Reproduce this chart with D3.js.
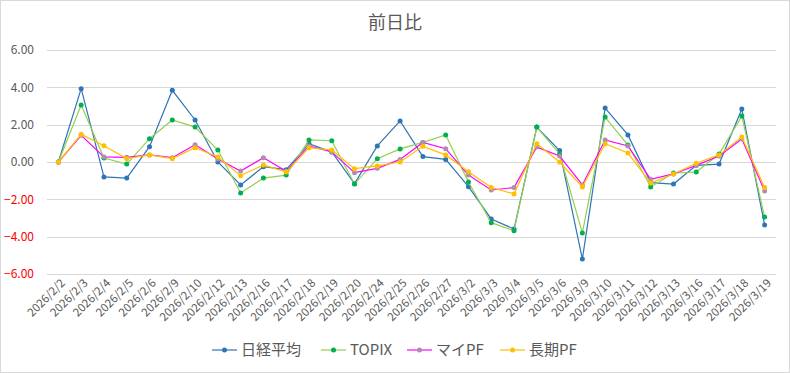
<!DOCTYPE html>
<html>
<head>
<meta charset="utf-8">
<script src="https://cdn.jsdelivr.net/npm/d3@7"></script>
<style>
  body { margin: 0; background: #fff; }
  text { font-family: "Noto Sans CJK JP", "Noto Sans", sans-serif; }
</style>
</head>
<body>
<div id="chart"></div>
<script>
// dates on the x axis
var dates = ["2026/2/2", "2026/2/3", "2026/2/4", "2026/2/5", "2026/2/6", "2026/2/9", "2026/2/10",
    "2026/2/12", "2026/2/13", "2026/2/16", "2026/2/17", "2026/2/18", "2026/2/19", "2026/2/20",
    "2026/2/24", "2026/2/25", "2026/2/26", "2026/2/27", "2026/3/2", "2026/3/3", "2026/3/4",
    "2026/3/5", "2026/3/6", "2026/3/9", "2026/3/10", "2026/3/11", "2026/3/12", "2026/3/13",
    "2026/3/16", "2026/3/17", "2026/3/18", "2026/3/19"];

var nikkei = [0, 3.93, -0.80, -0.86, 0.82, 3.84, 2.25, 0.0, -1.23, -0.25, -0.41, 0.98, 0.54, -1.16,
    0.86, 2.20, 0.29, 0.14, -1.32, -3.05, -3.59, 1.87, 0.61, -5.20, 2.89, 1.45, -1.11, -1.18,
    -0.18, -0.11, 2.84, -3.37];
var topix = [0, 3.05, 0.21, -0.11, 1.25, 2.25, 1.87, 0.64, -1.66, -0.86, -0.70, 1.18, 1.14, -1.18,
    0.18, 0.70, 1.05, 1.45, -1.07, -3.25, -3.68, 1.87, 0.43, -3.80, 2.41, 0.91, -1.34, -0.59,
    -0.54, 0.43, 2.46, -2.95];
var myPF = [0, 1.43, 0.27, 0.25, 0.38, 0.23, 0.93, 0.16, -0.48, 0.23, -0.50, 0.86, 0.54, -0.57,
    -0.34, 0.14, 1.05, 0.71, -0.70, -1.50, -1.37, 0.80, 0.32, -1.23, 1.18, 0.86, -0.93, -0.64,
    -0.18, 0.32, 1.23, -1.55];
var longPF = [0, 1.48, 0.87, 0.18, 0.38, 0.18, 0.77, 0.27, -0.73, -0.16, -0.54, 0.77, 0.64, -0.36,
    -0.21, 0.0, 0.84, 0.38, -0.52, -1.37, -1.71, 0.98, 0.0, -1.34, 0.98, 0.48, -1.13, -0.64,
    -0.07, 0.38, 1.34, -1.37];

var yTicks = [-6, -4, -2, 0, 2, 4, 6];

var series = [
    { name: "日経平均", values: nikkei, line: "#2E75B6", marker: "#2E75B6" },
    { name: "TOPIX", values: topix, line: "#92D050", marker: "#00B050" },
    { name: "マイPF", values: myPF, line: "#FF00FF", marker: "#B08CB0" },
    { name: "長期PF", values: longPF, line: "#FFC000", marker: "#FFC000" }
];

var svgWidth = 790, svgHeight = 373;

var svg = d3.select("#chart").append("svg")
    .attr("width", svgWidth)
    .attr("height", svgHeight);

// outer border
svg.append("rect")
    .attr("x", 0.5).attr("y", 0.5)
    .attr("width", svgWidth - 1).attr("height", svgHeight - 1)
    .attr("fill", "#fff")
    .attr("stroke", "#d9d9d9");

// title
svg.append("text")
    .attr("x", 395).attr("y", 29)
    .attr("text-anchor", "middle")
    .attr("font-size", "18px")
    .attr("fill", "#595959")
    .text("前日比");

var xScale = d3.scalePoint()
    .domain(dates)
    .range([47, 776])
    .padding(0.5);

var yScale = d3.scaleLinear()
    .domain([-6, 6])
    .range([274, 50]);

// gridlines
svg.append("g").selectAll("line")
    .data(yTicks)
    .enter()
    .append("line")
    .attr("x1", 47).attr("x2", 776)
    .attr("y1", d => Math.round(yScale(d)) + 0.5)
    .attr("y2", d => Math.round(yScale(d)) + 0.5)
    .attr("stroke", "#d9d9d9");

// y axis labels (negative in red)
var leftAxis = d3.axisLeft(yScale)
    .tickValues(yTicks)
    .tickFormat(d3.format(".2f"))
    .tickSize(0)
    .tickPadding(0);

var yAxis = svg.append("g")
    .attr("transform", "translate(34,0)")
    .call(leftAxis);
yAxis.select(".domain").remove();
yAxis.selectAll("text")
    .attr("font-size", "12px")
    .attr("fill", d => d < 0 ? "#ff0000" : "#595959");

// x axis labels, rotated
var bottomAxis = d3.axisBottom(xScale).tickSize(0).tickPadding(0);
var xAxis = svg.append("g")
    .attr("transform", "translate(0,281)")
    .call(bottomAxis);
xAxis.select(".domain").remove();
xAxis.selectAll("text")
    .attr("font-size", "11.5px")
    .attr("fill", "#595959")
    .attr("text-anchor", "end")
    .attr("dy", "0.35em")
    .attr("y", 0)
    .attr("transform", "translate(4,0) rotate(-45)");

// lines + markers
var line = d3.line()
    .x((d, i) => xScale(dates[i]))
    .y(d => yScale(d));

series.forEach(function(s) {
    svg.append("path")
        .attr("d", line(s.values))
        .attr("fill", "none")
        .attr("stroke", s.line)
        .attr("stroke-width", 1.2);

    svg.append("g").selectAll("circle")
        .data(s.values)
        .enter()
        .append("circle")
        .attr("cx", (d, i) => xScale(dates[i]))
        .attr("cy", d => yScale(d))
        .attr("r", 2.5)
        .attr("fill", s.marker);
});

// legend
var legendX = [212, 321, 407, 500];
var legend = svg.append("g");
series.forEach(function(s, i) {
    var g = legend.append("g").attr("transform", `translate(${legendX[i]}, 350)`);
    g.append("line")
        .attr("x1", 0).attr("x2", 25)
        .attr("stroke", s.line)
        .attr("stroke-width", 1.2);
    g.append("circle")
        .attr("cx", 12.5).attr("cy", 0)
        .attr("r", 2.5)
        .attr("fill", s.marker);
    g.append("text")
        .attr("x", 29).attr("y", 0)
        .attr("dy", "0.35em")
        .attr("font-size", "15px")
        .attr("fill", "#595959")
        .text(s.name);
});
</script>
</body>
</html>
